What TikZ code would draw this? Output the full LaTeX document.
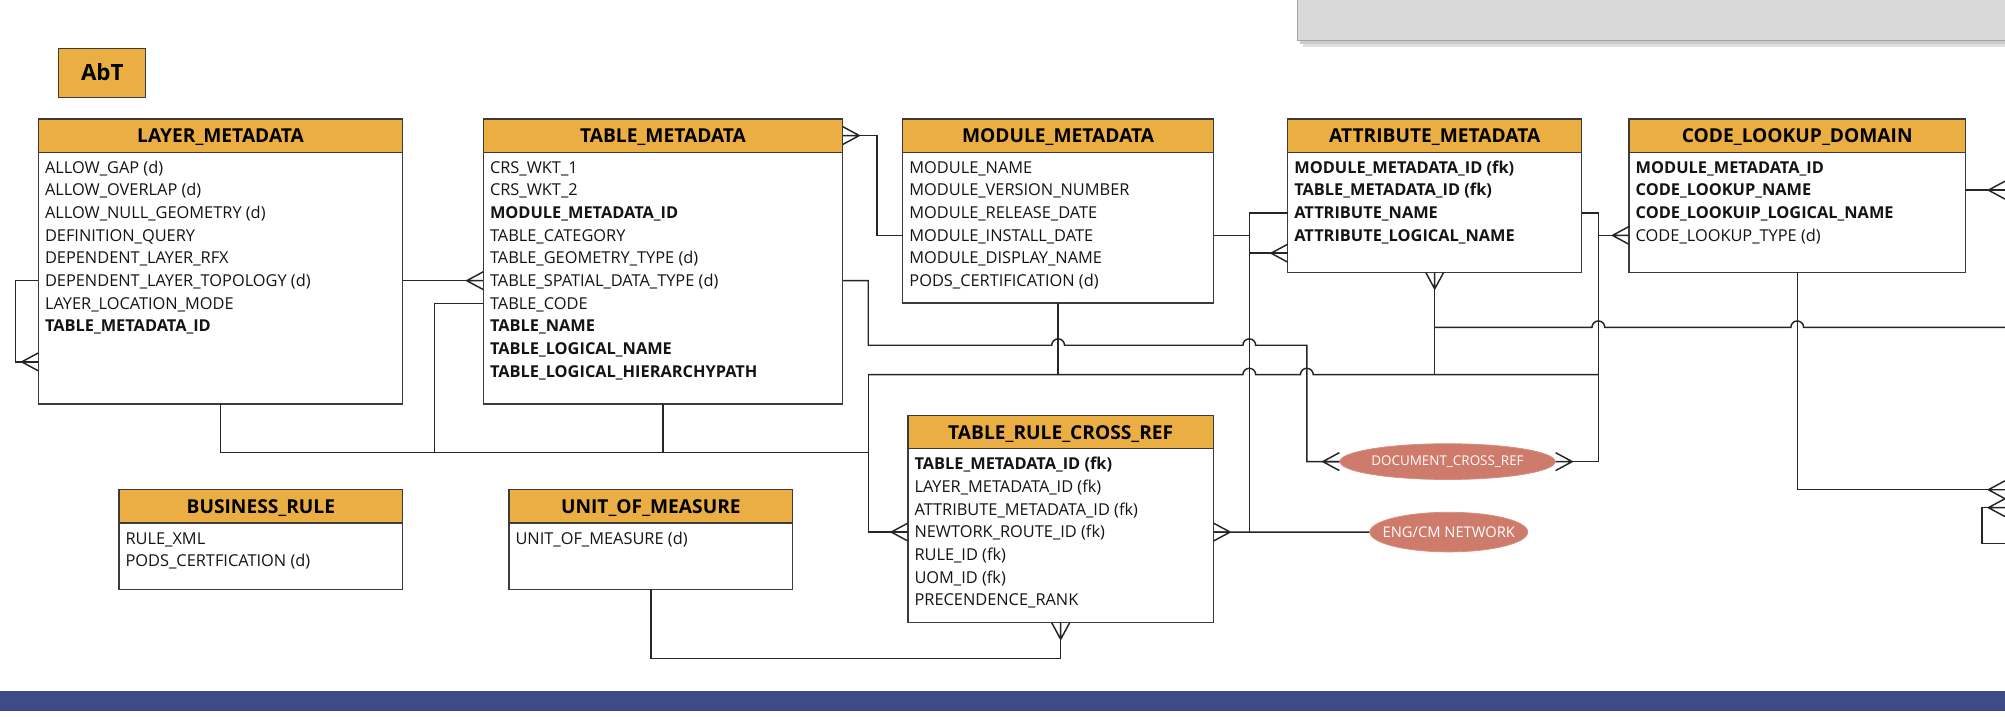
\documentclass[tikz,border=0pt]{standalone}
\usepackage{fontspec}
\setmainfont{Open Sans}
\usetikzlibrary{shapes.geometric}

\definecolor{hdrorange}{HTML}{EBAE43}
\definecolor{boxline}{HTML}{3C3C3C}
\definecolor{wirecol}{HTML}{262626}
\definecolor{ovalfill}{HTML}{CF7B6B}
\definecolor{bandblue}{HTML}{3F4B86}
\definecolor{notegray}{HTML}{D9D9D9}
\definecolor{noteedge}{HTML}{A3A3A3}

\tikzset{
  erhead/.style={draw=boxline, line width=1pt, fill=hdrorange, outer sep=0pt,
    minimum height=26pt, inner sep=0pt, text height=10.7pt, text depth=0pt,
    font=\fontsize{15}{18}\selectfont\bfseries},
  erbody/.style={draw=boxline, line width=1pt, fill=white, outer sep=0pt, inner sep=0pt},
  errow/.style={anchor=west, inner sep=0pt, text height=9.1pt, text depth=0pt,
    text=black!92, font=\fontsize{12.8}{15}\selectfont},
  wire/.style={draw=wirecol, line width=1.15pt},
  oval/.style={ellipse, fill=ovalfill, draw=ovalfill!85!white, line width=0.6pt,
    inner sep=0pt, text=white, font=\fontsize{10.5}{12}\selectfont},
  crowfoot/.pic={\draw[wire] (-13,0) -- (0,7) (-13,0) -- (0,-7) (-13,0) -- (0,0);}
}

% entity box: name, left x, top y, width, body height, title, attribute rows
\newcommand{\ertable}[7]{%
  \node[erhead, minimum width=#4, anchor=north west] (#1-h) at (#2,#3) {#6};
  \node[erbody, minimum width=#4, minimum height=#5, anchor=north west] (#1) at (#1-h.south west) {};
  \foreach \rowtext [count=\i from 0] in {#7}
    \node[errow] (#1-r\i) at ([xshift=5pt, yshift={-12pt-17.7pt*\i}]#1.north west) {\rowtext};
}

\begin{document}
\begin{tikzpicture}[x=1pt, y=-1pt]
\useasboundingbox (0,0) rectangle (1568,560);

% note panel at the top right
\fill[black!12] (1019,-10) rectangle (1575,37);
\fill[black!20] (1017,-10) rectangle (1575,34.5);
\draw[draw=noteedge, fill=notegray, line width=0.8pt] (1015,-10) rectangle (1575,32);

% bottom band
\fill[bandblue] (0,540) rectangle (1568,556);

% label
\node[erhead, minimum width=68pt, minimum height=38pt, anchor=north west,
  text height=12.6pt, font=\fontsize{17.5}{20}\selectfont\bfseries] (abt) at (46,38) {AbT};

% entities
\ertable{lay}{30}{93}{285}{197}{LAYER\_METADATA}{ALLOW\_GAP (d), ALLOW\_OVERLAP (d),
  ALLOW\_NULL\_GEOMETRY (d), DEFINITION\_QUERY, DEPENDENT\_LAYER\_RFX,
  DEPENDENT\_LAYER\_TOPOLOGY (d), LAYER\_LOCATION\_MODE, \textbf{TABLE\_METADATA\_ID}}

\ertable{tm}{378}{93}{281}{197}{TABLE\_METADATA}{CRS\_WKT\_1, CRS\_WKT\_2,
  \textbf{MODULE\_METADATA\_ID}, TABLE\_CATEGORY, TABLE\_GEOMETRY\_TYPE (d),
  TABLE\_SPATIAL\_DATA\_TYPE (d), TABLE\_CODE, \textbf{TABLE\_NAME},
  \textbf{TABLE\_LOGICAL\_NAME}, \textbf{TABLE\_LOGICAL\_HIERARCHYPATH}}

\ertable{mm}{706}{93}{243}{118}{MODULE\_METADATA}{MODULE\_NAME, MODULE\_VERSION\_NUMBER,
  MODULE\_RELEASE\_DATE, MODULE\_INSTALL\_DATE, MODULE\_DISPLAY\_NAME, PODS\_CERTIFICATION (d)}

\ertable{am}{1007}{93}{230}{94}{ATTRIBUTE\_METADATA}{\textbf{MODULE\_METADATA\_ID (fk)},
  \textbf{TABLE\_METADATA\_ID (fk)}, \textbf{ATTRIBUTE\_NAME}, \textbf{ATTRIBUTE\_LOGICAL\_NAME}}

\ertable{cld}{1274}{93}{263}{94}{CODE\_LOOKUP\_DOMAIN}{\textbf{MODULE\_METADATA\_ID},
  \textbf{CODE\_LOOKUP\_NAME}, \textbf{CODE\_LOOKUIP\_LOGICAL\_NAME}, CODE\_LOOKUP\_TYPE (d)}

\ertable{trc}{710}{325}{239}{136}{TABLE\_RULE\_CROSS\_REF}{\textbf{TABLE\_METADATA\_ID (fk)},
  LAYER\_METADATA\_ID (fk), ATTRIBUTE\_METADATA\_ID (fk), NEWTORK\_ROUTE\_ID (fk),
  RULE\_ID (fk), UOM\_ID (fk), PRECENDENCE\_RANK}

\ertable{br}{93}{383}{222}{52}{BUSINESS\_RULE}{RULE\_XML, PODS\_CERTFICATION (d)}

\ertable{uom}{398}{383}{222}{52}{UNIT\_OF\_MEASURE}{UNIT\_OF\_MEASURE (d)}

% external references
\node[oval, minimum width=167pt, minimum height=28pt] (doc) at (1132,361) {DOCUMENT\_CROSS\_REF};
\node[oval, minimum width=121pt, minimum height=31pt, inner xsep=-8pt,
  font=\fontsize{11.5}{13}\selectfont] (eng) at (1133,416.1) {ENG/CM NETWORK};

% bus positions
\coordinate (busA) at (679,0);
\coordinate (busB) at (977,0);
\coordinate (busC) at (1022,0);
\coordinate (busD) at (1250,0);
\coordinate (edge) at (1568,0);

% LAYER_METADATA self reference
\draw[wire] (lay.west |- lay-r5) -| (12,283) -- (lay.west |- 0,283);
\pic at (lay.west |- 0,283) {crowfoot};

% LAYER_METADATA -> TABLE_METADATA
\draw[wire] (lay.east |- lay-r5) -- (tm.west |- lay-r5);
\pic at (tm.west |- lay-r5) {crowfoot};

% TABLE_METADATA -> MODULE_METADATA
\draw[wire] (tm-h.east) -- ++(27,0) |- (mm.west |- mm-r3);
\pic[rotate=180] at (tm-h.east) {crowfoot};

% TABLE_METADATA -> DOCUMENT_CROSS_REF
\draw[wire] (tm.east |- tm-r5) -| (busA |- 0,270) -- (822.5,270)
  arc[start angle=180, end angle=0, radius=5pt] -- (972,270)
  arc[start angle=180, end angle=0, radius=5pt] -- (busC |- 0,270) |- (doc.west);
\pic at (doc.west) {crowfoot};

% LAYER_METADATA / TABLE_METADATA -> TABLE_RULE_CROSS_REF
\draw[wire] (lay.south) |- (busA |- 0,354);
\draw[wire] (tm.south) -- (tm.south |- 0,354);
\draw[wire] (tm.west |- tm-r6) -| (340,354);
\draw[wire] (busA |- 0,293) |- (trc.west |- trc-r3);
\pic at (trc.west |- trc-r3) {crowfoot};

% shared line below MODULE_METADATA
\draw[wire] (busA |- 0,293) -- (972,293)
  arc[start angle=180, end angle=0, radius=5pt] -- (1017,293)
  arc[start angle=180, end angle=0, radius=5pt] -- (busD |- 0,293);
\draw[wire] (mm.south) -- (mm.south |- 0,293);
\draw[wire] (am.south) -- (am.south |- 0,293);
\pic[rotate=90] at (am.south) {crowfoot};

% line from ATTRIBUTE_METADATA towards the right border
\draw[wire] (am.south |- 0,256) -- (1245,256)
  arc[start angle=180, end angle=0, radius=5pt] -- (1400.5,256)
  arc[start angle=180, end angle=0, radius=5pt] -- (1575,256);

% ATTRIBUTE_METADATA -> DOCUMENT_CROSS_REF / CODE_LOOKUP_DOMAIN
\draw[wire] (am.east |- am-r2) -- (busD |- am-r2) -- (busD |- doc.east) -- (doc.east);
\pic[rotate=180] at (doc.east) {crowfoot};
\draw[wire] (busD |- cld-r3) -- (cld.west |- cld-r3);
\pic at (cld.west |- cld-r3) {crowfoot};

% MODULE_METADATA -> ATTRIBUTE_METADATA and the network link
\draw[wire] (am.west |- am-r2) -- (busB |- am-r2) -- (busB |- trc-r3);
\draw[wire] (mm.east |- mm-r3) -- (busB |- mm-r3);
\draw[wire] (busB |- 0,198) -- (am.west |- 0,198);
\pic at (am.west |- 0,198) {crowfoot};

% TABLE_RULE_CROSS_REF -> ENG/CM NETWORK
\draw[wire] (trc.east |- trc-r3) -- (eng.west);
\pic[rotate=180] at (trc.east |- trc-r3) {crowfoot};

% UNIT_OF_MEASURE -> TABLE_RULE_CROSS_REF
\draw[wire] (uom.south) -- ++(0,54) -| (trc.south);
\pic[rotate=90] at (trc.south) {crowfoot};

% CODE_LOOKUP_DOMAIN -> next entity on the right
\draw[wire] (cld.east |- cld-r1) -- (edge |- cld-r1);
\pic at (edge |- cld-r1) {crowfoot};
\draw[wire] (cld.south) |- (edge |- 0,383);
\pic at (edge |- 0,383) {crowfoot};
\draw[wire] (edge |- 0,397) -- (1550,397) -- (1550,425) -- (1575,425);
\pic at (edge |- 0,397) {crowfoot};

\end{tikzpicture}
\end{document}
